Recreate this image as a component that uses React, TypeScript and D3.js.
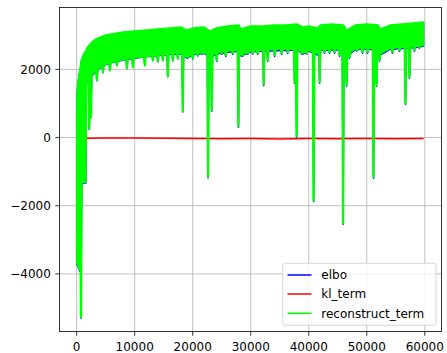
import React from 'react';
import * as d3 from 'd3';

// ---- data ----
const envSteps = [0, 200, 550, 600, 800, 1200, 1600, 1700, 2000, 2500, 3000, 4000, 5000, 6000, 8000, 10000, 12000, 14000, 16000, 18000, 19000, 20000, 22000, 23000, 24000, 26000, 28000, 28300, 30000, 32000, 34000, 36000, 38000, 39000, 40000, 41500, 42000, 44000, 46000, 46500, 48000, 50000, 52000, 52300, 54000, 56000, 58000, 59800];
const bandHigh = [1098, 1626, 2000, 2037, 2272, 2448, 2565, 2600, 2683, 2771, 2859, 2947, 3006, 3035, 3094, 3123, 3153, 3182, 3211, 3241, 3153, 3211, 3241, 3123, 3211, 3270, 3299, 3182, 3270, 3270, 3299, 3299, 3328, 3241, 3270, 3211, 3299, 3328, 3299, 3153, 3299, 3328, 3299, 3182, 3299, 3328, 3358, 3387];
const bandLow = [-3690, -3750, -3900, -1310, -1310, -1310, -1310, 1650, 1700, 1800, 1900, 2050, 2150, 2200, 2280, 2330, 2380, 2420, 2450, 2480, 2350, 2450, 2500, 2350, 2480, 2530, 2560, 2420, 2540, 2560, 2580, 2590, 2600, 2480, 2560, 2450, 2580, 2600, 2600, 2400, 2600, 2620, 2600, 2450, 2620, 2640, 2660, 2700];
const dipSteps = [740, 2170, 2460, 3490, 4530, 5730, 6940, 8660, 9690, 11750, 13130, 13990, 14850, 15710, 16570, 17430, 18290, 19150, 20010, 20870, 21730, 22650, 23280, 24140, 25000, 25690, 26900, 27880, 28620, 29480, 30340, 31200, 32230, 32930, 34130, 35330, 36370, 37570, 37910, 38770, 39630, 40840, 41870, 42730, 43590, 44450, 45310, 45920, 46520, 47030, 48240, 49270, 50130, 51160, 51680, 52200, 53400, 54430, 55640, 56670, 57360, 58220, 59080];
const dipValues = [-5270, 261, 600, 1685, 1920, 1978, 2125, 2037, 2066, 2125, 2272, 2242, 2272, 1802, 2272, 2330, 775, 2360, 2330, 2418, 2477, -1153, 804, 2272, 2477, 2418, 2477, 334, 2418, 2477, 2477, 2477, 1558, 2272, 2418, 2477, 2506, 1626, 41, 2477, 2477, -1843, 1626, 2506, 2506, 2506, 2418, -2512, 1538, 2360, 2565, 2506, 2506, -1160, 1538, 2272, 2565, 2506, 2565, 1010, 1773, 2565, 2653];
const klSteps = [0, 5000, 10000, 15000, 20000, 25000, 30000, 35000, 40000, 45000, 50000, 55000, 59800];
const klValues = [-30, -15, -10, -20, -25, -35, -30, -40, -30, -35, -30, -35, -30];
const xTicks = [0, 10000, 20000, 30000, 40000, 50000, 60000];
const yTicks = [-4000, -2000, 0, 2000];
const seriesNames = ['elbo', 'kl_term', 'reconstruct_term'];
const seriesColors = ['#0000ff', '#ff0000', '#00ff00'];

const W = 447;
const H = 353;
const L = 59.5, R = 441.5, T = 7.5, B = 331.5;
const FONT = 'DejaVu Sans, sans-serif';

export default function App() {
  const x = d3.scaleLinear().domain([-2960, 62880]).range([L, R]);
  const y = d3.scaleLinear().domain([-5690, 3815]).range([B, T]);
  const lowAt = d3.scaleLinear().domain(envSteps).range(bandLow).clamp(true);
  const klAt = d3.scaleLinear().domain(klSteps).range(klValues).clamp(true);

  const band = envSteps.map((s, i) => ({ s, hi: bandHigh[i], lo: bandLow[i] }));

  const areaGen = (off: boolean) =>
    d3
      .area<{ s: number; hi: number; lo: number }>()
      .x((d) => x(d.s))
      .y0((d) => y(d.lo + (off ? klAt(d.s) : 0)))
      .y1((d) => y(d.hi + (off ? klAt(d.s) : 0)));

  const lineGen = d3
    .line<[number, number]>()
    .x((d) => x(d[0]))
    .y((d) => y(d[1]));

  const dipPath = (off: boolean) =>
    dipSteps
      .map((s, i) => {
        const k = off ? klAt(s) : 0;
        const pts: [number, number][] = [
          [s - 120, lowAt(s - 120) + k],
          [s, dipValues[i] + k],
          [s + 120, lowAt(s + 120) + k],
        ];
        return lineGen(pts);
      })
      .join(' ');

  const klPath = lineGen(klSteps.map((s, i) => [s, klValues[i]] as [number, number]));

  const legX = 282.7, legY = 263.3, legW = 153.3, legH = 62;
  const rowY = [275, 294, 313.3];

  return (
    <svg
      width={W}
      height={H}
      style={{ position: 'fixed', left: 0, top: 0, background: '#fff' }}
      fontFamily={FONT}
    >
      <rect x={0} y={0} width={W} height={H} fill="#fff" />
      <defs>
        <clipPath id="plotclip">
          <rect x={L} y={T} width={R - L} height={B - T} />
        </clipPath>
      </defs>
      {/* grid */}
      <g stroke="#b0b0b0" strokeWidth={0.8}>
        {xTicks.map((t) => (
          <line key={'gx' + t} x1={x(t)} x2={x(t)} y1={T} y2={B} />
        ))}
        {yTicks.map((t) => (
          <line key={'gy' + t} x1={L} x2={R} y1={y(t)} y2={y(t)} />
        ))}
      </g>
      <g clipPath="url(#plotclip)">
        {/* elbo */}
        <path d={areaGen(true)(band) || ''} fill={seriesColors[0]} stroke={seriesColors[0]} strokeWidth={1.2} strokeLinejoin="round" />
        <path d={dipPath(true)} fill="none" stroke={seriesColors[0]} strokeWidth={1.5} strokeLinejoin="round" />
        {/* kl_term */}
        <path d={klPath || ''} fill="none" stroke={seriesColors[1]} strokeWidth={1.5} />
        {/* reconstruct_term */}
        <path d={areaGen(false)(band) || ''} fill={seriesColors[2]} stroke={seriesColors[2]} strokeWidth={1.5} strokeLinejoin="round" />
        <path d={dipPath(false)} fill="none" stroke={seriesColors[2]} strokeWidth={2.3} strokeLinejoin="round" />
      </g>
      {/* spines */}
      <rect x={L} y={T} width={R - L} height={B - T} fill="none" stroke="#000" strokeWidth={0.8} />
      {/* ticks */}
      <g stroke="#000" strokeWidth={0.8}>
        {xTicks.map((t) => (
          <line key={'tx' + t} x1={x(t)} x2={x(t)} y1={B} y2={B + 4.2} />
        ))}
        {yTicks.map((t) => (
          <line key={'ty' + t} x1={L - 4.2} x2={L} y1={y(t)} y2={y(t)} />
        ))}
      </g>
      <g fontSize={12} fill="#000">
        {xTicks.map((t) => (
          <text key={'lx' + t} x={x(t)} y={351} textAnchor="middle">
            {String(t)}
          </text>
        ))}
        {yTicks.map((t) => (
          <text key={'ly' + t} x={50.8} y={y(t) + 4.4} textAnchor="end">
            {t < 0 ? '\u2212' + String(-t) : String(t)}
          </text>
        ))}
      </g>
      {/* legend */}
      <rect x={legX} y={legY} width={legW} height={legH} rx={2.5} fill="#fff" fillOpacity={0.8} stroke="#cccccc" strokeWidth={0.8} />
      {seriesNames.map((n, i) => (
        <g key={n}>
          <line x1={287.5} x2={311.5} y1={rowY[i]} y2={rowY[i]} stroke={seriesColors[i]} strokeWidth={1.5} />
          <text x={321.3} y={rowY[i] + 4.3} fontSize={12} fill="#000">
            {n}
          </text>
        </g>
      ))}
    </svg>
  );
}
